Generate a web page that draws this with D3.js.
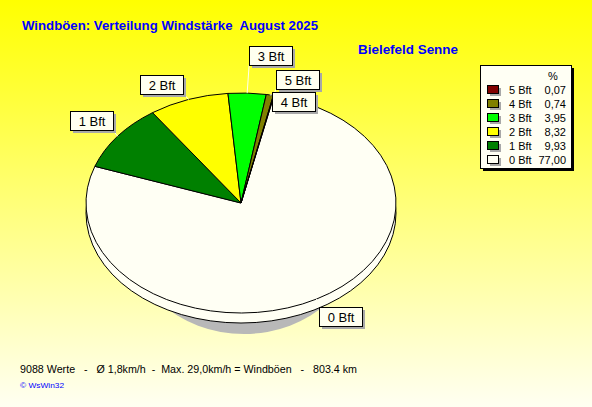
<!DOCTYPE html>
<html>
<head>
<meta charset="utf-8">
<script src="https://cdnjs.cloudflare.com/ajax/libs/d3/7.8.5/d3.min.js"></script>
<style>
  body { margin: 0; padding: 0; background: #fff; }
  svg { display: block; font-family: Arial, "Liberation Sans", sans-serif; }
  text { white-space: pre; }
</style>
</head>
<body>
<div id="chart"></div>
<script>
// data, legend order (top to bottom)
var categories = ["5 Bft", "4 Bft", "3 Bft", "2 Bft", "1 Bft", "0 Bft"];
var percents = [0.07, 0.74, 3.95, 8.32, 9.93, 77.00];
var valueLabels = ["0,07", "0,74", "3,95", "8,32", "9,93", "77,00"];
var colors = ["#800000", "#808000", "#00ff00", "#ffff00", "#008000", "#fffff4"];

var titleText = "Windböen: Verteilung Windstärke  August 2025";
var stationText = "Bielefeld Senne";
var footerText = "9088 Werte   -   Ø 1,8km/h  -  Max. 29,0km/h = Windböen   -   803.4 km";
var creditText = "© WsWin32";

// label stacking for the crowded slices at the top
var labelLevel = { "3 Bft": 2, "4 Bft": 0, "5 Bft": 1 };

var width = 592, height = 407;
var cx = 241, cy = 203, rx = 155, ry = 110, depth = 10;
var cream = "#fffff4";

var svg = d3.select("#chart").append("svg")
    .attr("width", width)
    .attr("height", height);

var defs = svg.append("defs");
var grad = defs.append("linearGradient")
    .attr("id", "bg")
    .attr("x1", 0).attr("y1", 0).attr("x2", 0).attr("y2", 1);
grad.append("stop").attr("offset", "0%").attr("stop-color", "#ffff00");
grad.append("stop").attr("offset", "100%").attr("stop-color", "#fffff2");

svg.append("rect")
    .attr("width", width).attr("height", height)
    .attr("fill", "url(#bg)");

// titles
svg.append("text")
    .attr("x", 22).attr("y", 30)
    .attr("fill", "#0000ff")
    .attr("font-size", 13).attr("font-weight", "bold")
    .attr("textLength", 296).attr("lengthAdjust", "spacingAndGlyphs")
    .text(titleText);

svg.append("text")
    .attr("x", 358).attr("y", 54)
    .attr("fill", "#0000ff")
    .attr("font-size", 13).attr("font-weight", "bold")
    .attr("textLength", 100).attr("lengthAdjust", "spacingAndGlyphs")
    .text(stationText);

// pie data, drawn clockwise starting with 0 Bft
var pieData = categories.map(function(c, i) {
    return { cat: c, value: percents[i], color: colors[i] };
}).reverse();

var start = 12.3 * Math.PI / 180;
var pie = d3.pie()
    .sort(null)
    .value(function(d) { return d.value; })
    .startAngle(start)
    .endAngle(start + 2 * Math.PI);
var arcs = pie(pieData);

var arc = d3.arc().innerRadius(0).outerRadius(rx);

function rim(a) {
    return [cx + rx * Math.sin(a), cy - ry * Math.cos(a)];
}

// shadow under the pie
svg.append("ellipse")
    .attr("cx", cx + 3).attr("cy", cy + 21)
    .attr("rx", rx - 35).attr("ry", ry)
    .attr("fill", "#b8b8b8");

// side of the disc
svg.append("ellipse")
    .attr("cx", cx).attr("cy", cy + depth)
    .attr("rx", rx).attr("ry", ry)
    .attr("fill", cream)
    .attr("stroke", "#000").attr("stroke-width", 1);
svg.append("rect")
    .attr("x", cx - rx + 1).attr("y", cy)
    .attr("width", 2 * rx - 2).attr("height", depth)
    .attr("fill", cream);

// top surface
var pieTop = svg.append("g")
    .attr("transform", "translate(" + cx + "," + cy + ") scale(1," + (ry / rx) + ")");
pieTop.selectAll("path")
    .data(arcs)
    .enter().append("path")
    .attr("d", arc)
    .attr("fill", function(d) { return d.data.color; })
    .attr("stroke", "#000")
    .attr("stroke-width", 1)
    .attr("vector-effect", "non-scaling-stroke")
    .attr("stroke-linejoin", "round");

// labels
var boxW = 43, boxH = 19;
var labels = arcs.map(function(d) {
    var mid = (d.startAngle + d.endAngle) / 2;
    var p = rim(mid);
    var s = Math.sin(mid), c = Math.cos(mid);
    var bx, by;
    if (c < 0) {
        bx = p[0] + 3; by = p[1] + 8;
    } else if (s < 0) {
        bx = p[0] - 5 - boxW; by = p[1] - 6 - boxH;
    } else {
        var lvl = labelLevel[d.data.cat] || 0;
        bx = p[0] + 2; by = p[1] - 3 - lvl * 22;
    }
    return { cat: d.data.cat, p: p, x: bx, y: by };
});

// leader lines
svg.selectAll("line.leader")
    .data(labels)
    .enter().append("line")
    .attr("class", "leader")
    .attr("x1", function(d) { return d.p[0]; })
    .attr("y1", function(d) { return d.p[1]; })
    .attr("x2", function(d) { return Math.max(d.x, Math.min(d.x + boxW, d.p[0])); })
    .attr("y2", function(d) { return Math.max(d.y, Math.min(d.y + boxH, d.p[1])); })
    .attr("stroke", "#fffff0")
    .attr("stroke-width", 1);

var lg = svg.selectAll("g.lbl")
    .data(labels)
    .enter().append("g")
    .attr("class", "lbl")
    .attr("transform", function(d) { return "translate(" + Math.round(d.x) + "," + Math.round(d.y) + ")"; });
lg.append("rect")
    .attr("x", 3).attr("y", 3)
    .attr("width", boxW).attr("height", boxH)
    .attr("fill", "#a8a8a8");
lg.append("rect")
    .attr("x", 0.5).attr("y", 0.5)
    .attr("width", boxW).attr("height", boxH)
    .attr("fill", "#fffff0")
    .attr("stroke", "#000");
lg.append("text")
    .attr("x", boxW / 2 + 0.5).attr("y", 15)
    .attr("text-anchor", "middle")
    .attr("font-size", 13)
    .attr("fill", "#000")
    .text(function(d) { return d.cat; });

// legend
var legX = 480, legY = 65, legW = 91, legH = 103;
svg.append("rect")
    .attr("x", legX + 3).attr("y", legY + 3)
    .attr("width", legW).attr("height", legH)
    .attr("fill", "#000");
svg.append("rect")
    .attr("x", legX + 0.5).attr("y", legY + 0.5)
    .attr("width", legW).attr("height", legH)
    .attr("fill", "#fffff4")
    .attr("stroke", "#000");
svg.append("text")
    .attr("x", 553).attr("y", 80)
    .attr("text-anchor", "middle")
    .attr("font-size", 11)
    .text("%");

var rowY = d3.scaleBand()
    .domain(categories)
    .range([83, 83 + 14 * categories.length]);

var rows = svg.selectAll("g.row")
    .data(categories)
    .enter().append("g")
    .attr("class", "row")
    .attr("transform", function(d) { return "translate(0," + rowY(d) + ")"; });
rows.append("rect")
    .attr("x", 490).attr("y", 5)
    .attr("width", 11).attr("height", 8)
    .attr("fill", "#a8a8a8");
rows.append("rect")
    .attr("x", 487.5).attr("y", 2.5)
    .attr("width", 11).attr("height", 8)
    .attr("fill", function(d, i) { return colors[i]; })
    .attr("stroke", "#000");
rows.append("text")
    .attr("x", 509).attr("y", 11)
    .attr("font-size", 11)
    .text(function(d) { return d; });
rows.append("text")
    .attr("x", 566).attr("y", 11)
    .attr("text-anchor", "end")
    .attr("font-size", 11)
    .text(function(d, i) { return valueLabels[i]; });

// footer
svg.append("text")
    .attr("x", 20).attr("y", 373)
    .attr("font-size", 11)
    .attr("fill", "#000")
    .attr("textLength", 337).attr("lengthAdjust", "spacingAndGlyphs")
    .text(footerText);
svg.append("text")
    .attr("x", 20).attr("y", 388)
    .attr("font-size", 8)
    .attr("fill", "#0000ff")
    .attr("textLength", 44).attr("lengthAdjust", "spacingAndGlyphs")
    .text(creditText);
</script>
</body>
</html>
